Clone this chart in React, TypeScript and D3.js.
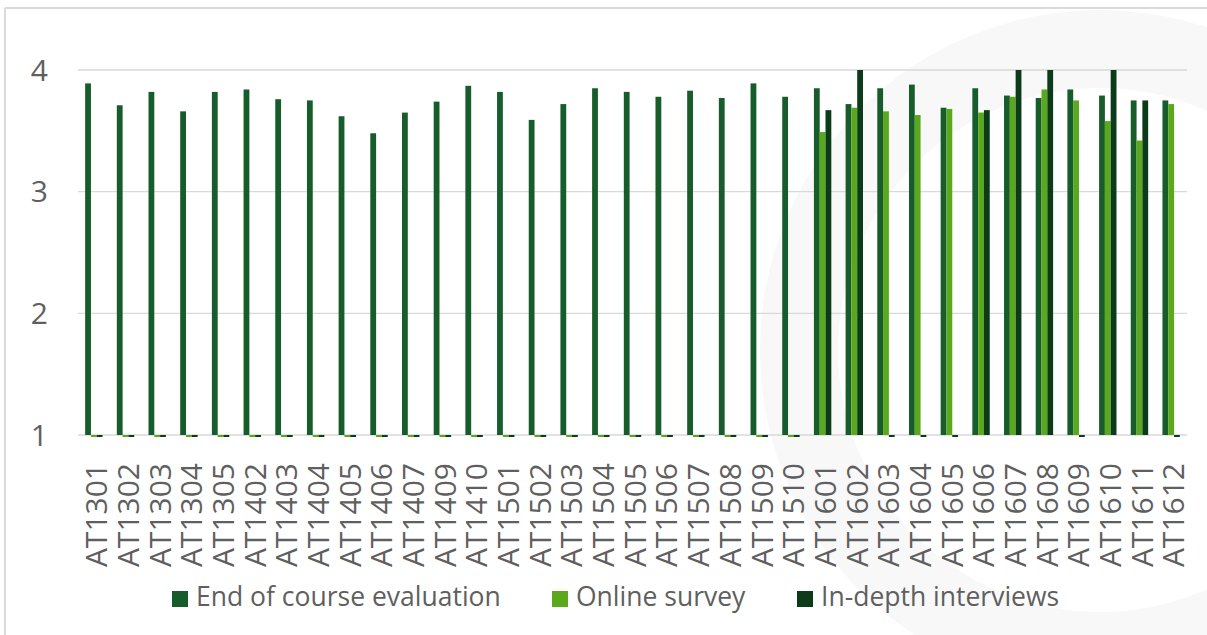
import React, { useEffect, useRef } from 'react';
import * as d3 from 'd3';

// course codes on the x axis
const courses = [
  'AT1301', 'AT1302', 'AT1303', 'AT1304', 'AT1305',
  'AT1402', 'AT1403', 'AT1404', 'AT1405', 'AT1406', 'AT1407', 'AT1409', 'AT1410',
  'AT1501', 'AT1502', 'AT1503', 'AT1504', 'AT1505', 'AT1506', 'AT1507', 'AT1508', 'AT1509', 'AT1510',
  'AT1601', 'AT1602', 'AT1603', 'AT1604', 'AT1605', 'AT1606', 'AT1607', 'AT1608', 'AT1609', 'AT1610', 'AT1611', 'AT1612',
];

const endOfCourse = [
  3.89, 3.71, 3.82, 3.66, 3.82,
  3.84, 3.76, 3.75, 3.62, 3.48, 3.65, 3.74, 3.87,
  3.82, 3.59, 3.72, 3.85, 3.82, 3.78, 3.83, 3.77, 3.89, 3.78,
  3.85, 3.72, 3.85, 3.88, 3.69, 3.85, 3.79, 3.77, 3.84, 3.79, 3.75, 3.75,
];

const onlineSurvey = [
  0, 0, 0, 0, 0,
  0, 0, 0, 0, 0, 0, 0, 0,
  0, 0, 0, 0, 0, 0, 0, 0, 0, 0,
  3.49, 3.69, 3.66, 3.63, 3.68, 3.65, 3.78, 3.84, 3.75, 3.58, 3.42, 3.72,
];

const interviews = [
  0, 0, 0, 0, 0,
  0, 0, 0, 0, 0, 0, 0, 0,
  0, 0, 0, 0, 0, 0, 0, 0, 0, 0,
  3.67, 4, 0, 0, 0, 3.67, 4, 4, 0, 4, 3.75, 0,
];

const seriesNames = ['End of course evaluation', 'Online survey', 'In-depth interviews'];
const seriesColors = ['#175d2b', '#5aa81c', '#0c3b19'];
const yTicks = [1, 2, 3, 4];

const W = 1207;
const H = 635;
const FONT = '"Open Sans", sans-serif';
const TEXT = '#5f5f5f';

const App = () => {
  const svgRef = useRef(null);

  useEffect(() => {
    const svg = d3.select(svgRef.current);
    svg.selectAll('*').remove();

    svg.append('rect').attr('width', W).attr('height', H).attr('fill', '#fff');

    // faint watermark ring in the background
    const ring = d3.arc()({
      innerRadius: 262,
      outerRadius: 340,
      startAngle: 0,
      endAngle: Math.PI * 2,
    });
    svg.append('path')
      .attr('transform', 'translate(1100,350)')
      .attr('d', ring)
      .attr('fill', '#f8f8f8');

    // frame
    svg.append('line')
      .attr('x1', 5).attr('x2', W).attr('y1', 8).attr('y2', 8)
      .attr('stroke', '#dadada').attr('stroke-width', 2);
    svg.append('line')
      .attr('x1', 5).attr('x2', 5).attr('y1', 8).attr('y2', H)
      .attr('stroke', '#dadada').attr('stroke-width', 2);

    const x0 = d3.scaleBand().domain(courses).range([78, 1187]);
    const barW = 5.8;
    const y = d3.scaleLinear().domain([1, 4]).range([435, 70]);

    // gridlines
    svg.append('g')
      .selectAll('line')
      .data(yTicks)
      .enter()
      .append('line')
      .attr('x1', 78)
      .attr('x2', 1187)
      .attr('y1', d => y(d))
      .attr('y2', d => y(d))
      .attr('stroke', '#d9d9d9')
      .attr('stroke-width', 1.3);

    // y labels
    svg.append('g')
      .selectAll('text')
      .data(yTicks)
      .enter()
      .append('text')
      .text(d => d)
      .attr('x', 48)
      .attr('y', d => y(d))
      .attr('dy', '0.36em')
      .attr('text-anchor', 'end')
      .style('font-family', FONT)
      .style('font-size', '30px')
      .attr('fill', TEXT);

    // bars
    const allSeries = [endOfCourse, onlineSurvey, interviews];
    allSeries.forEach((vals, s) => {
      svg.append('g')
        .selectAll('rect')
        .data(vals)
        .enter()
        .append('rect')
        .attr('x', (d, i) => x0(courses[i]) + x0.bandwidth() / 2 - 1.5 * barW + s * barW)
        .attr('width', barW)
        .attr('y', d => (d > 1 ? y(d) : y(1)))
        .attr('height', d => (d > 1 ? y(1) - y(d) : 2))
        .attr('fill', seriesColors[s]);
    });

    // x labels
    svg.append('g')
      .selectAll('text')
      .data(courses)
      .enter()
      .append('text')
      .text(d => d)
      .attr('transform', d => `translate(${x0(d) + x0.bandwidth() / 2 + 2.5},463) rotate(-90)`)
      .attr('dy', '0.36em')
      .attr('text-anchor', 'end')
      .style('font-family', FONT)
      .style('font-size', '30px')
      .attr('fill', TEXT);

    // legend
    const legendX = [172, 552, 797];
    const legend = svg.append('g')
      .selectAll('g')
      .data(seriesNames)
      .enter()
      .append('g')
      .attr('transform', (d, i) => `translate(${legendX[i]},591)`);
    legend.append('rect')
      .attr('width', 16)
      .attr('height', 16)
      .attr('fill', (d, i) => seriesColors[i]);
    legend.append('text')
      .text(d => d)
      .attr('x', 24)
      .attr('y', 15)
      .style('font-family', FONT)
      .style('font-size', '26.5px')
      .attr('fill', TEXT);
  }, []);

  return (
    <svg
      ref={svgRef}
      width={W}
      height={H}
      style={{ position: 'absolute', left: 0, top: 0, display: 'block' }}
    ></svg>
  );
};

export default App;
